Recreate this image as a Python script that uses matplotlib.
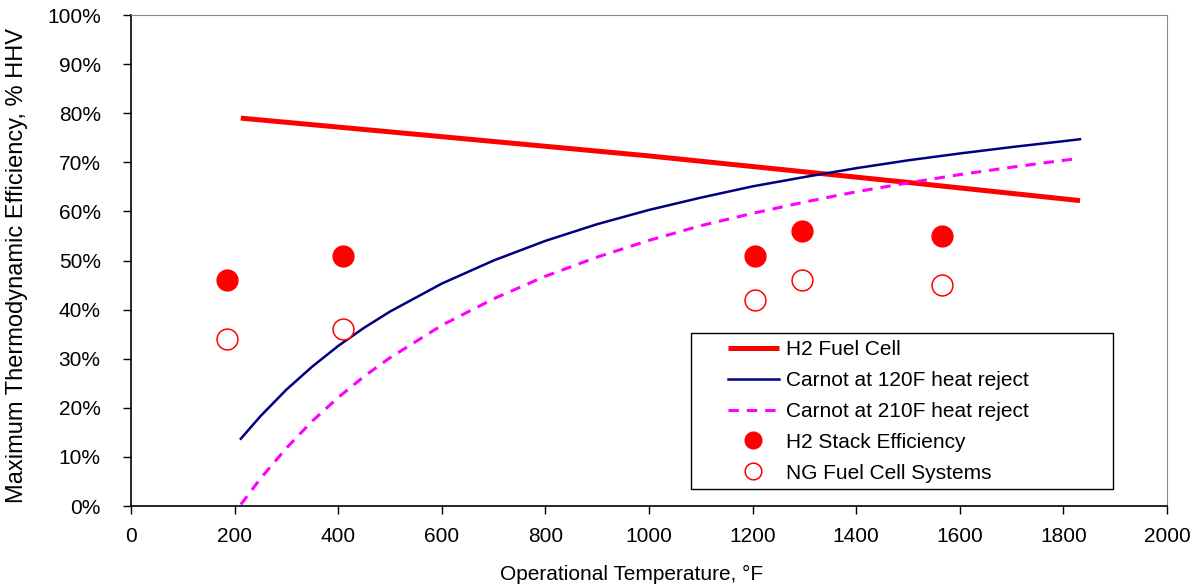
import matplotlib.pyplot as plt
from matplotlib.patches import Rectangle
from matplotlib.ticker import PercentFormatter

plt.rcParams['font.family'] = ['Liberation Sans', 'DejaVu Sans']

# Data (efficiency in %, temperature in F)
fc_temp = [212, 500, 1000, 1500, 1832]
fc_eff = [79.0, 76.2, 71.3, 65.9, 62.2]

carnot_temp = [212, 250, 300, 350, 400, 450, 500, 600, 700, 800, 900, 1000, 1100,
               1200, 1300, 1400, 1500, 1600, 1700, 1800, 1832]
carnot_120 = [13.7, 18.3, 23.7, 28.4, 32.6, 36.3, 39.6, 45.3, 50.0, 54.0, 57.4, 60.3, 62.8,
              65.1, 67.0, 68.8, 70.4, 71.8, 73.1, 74.3, 74.7]
carnot_210 = [0.3, 5.6, 11.8, 17.3, 22.1, 26.4, 30.2, 36.8, 42.2, 46.8, 50.7, 54.1, 57.1,
              59.6, 61.9, 64.0, 65.8, 67.5, 69.0, 70.4, 70.8]

pt_temp = [185, 410, 1205, 1295, 1565]
stack_eff = [46, 51, 51, 56, 55]
ng_eff = [34, 36, 42, 46, 45]

fig = plt.figure(figsize=(11.94, 5.86), dpi=100)
ax = fig.add_axes([0.1097, 0.1365, 0.8677, 0.8379])

ax.plot(fc_temp, fc_eff, color='#ff0000', lw=3.6, label='H2 Fuel Cell', solid_capstyle='butt')
ax.plot(carnot_temp, carnot_120, color='#000080', lw=1.8, label='Carnot at 120F heat reject')
ax.plot(carnot_temp, carnot_210, color='#ff00ff', lw=2.2, dashes=(3.4, 2.6),
        label='Carnot at 210F heat reject')
ax.plot(pt_temp, stack_eff, 'o', color='#ff0000', ms=15, mec='#ff0000', label='H2 Stack Efficiency')
ax.plot(pt_temp, ng_eff, 'o', mfc='white', mec='#ff0000', mew=1.1, ms=15, label='NG Fuel Cell Systems')

ax.set_xlim(0, 2000)
ax.set_ylim(0, 100)
ax.set_xticks(range(0, 2001, 200))
ax.set_yticks(range(0, 101, 10))
ax.yaxis.set_major_formatter(PercentFormatter(decimals=0))
ax.tick_params(axis='both', direction='out', length=5.8, width=1, labelsize=15, color='black')
ax.tick_params(axis='y', pad=16)
ax.tick_params(axis='x', pad=9)

ax.spines['top'].set_color('#888888')
ax.spines['right'].set_color('#888888')
ax.spines['left'].set_linewidth(1.2)
ax.spines['bottom'].set_linewidth(1.2)

ax.set_xlabel('Operational Temperature, °F', fontsize=15)
ax.xaxis.set_label_coords(0.483, -0.12)
ax.set_ylabel('Maximum Thermodynamic Efficiency, % HHV', fontsize=17)
ax.yaxis.set_label_coords(-0.0994, 0.49)

# legend box drawn separately so the entries can sit inset from its left edge
ax.add_patch(Rectangle((0.5405, 0.0346), 0.4075, 0.3174, transform=ax.transAxes,
                       facecolor='white', edgecolor='black', lw=1.0, zorder=4))
leg = ax.legend(loc='upper left', bbox_to_anchor=(0.576, 0.338), frameon=False,
                fontsize=15, handlelength=2.45, handletextpad=0.34, labelspacing=0.57,
                borderpad=0, borderaxespad=0, markerscale=0.8)
leg.set_zorder(5)

fig.savefig('out.png', dpi=100)
